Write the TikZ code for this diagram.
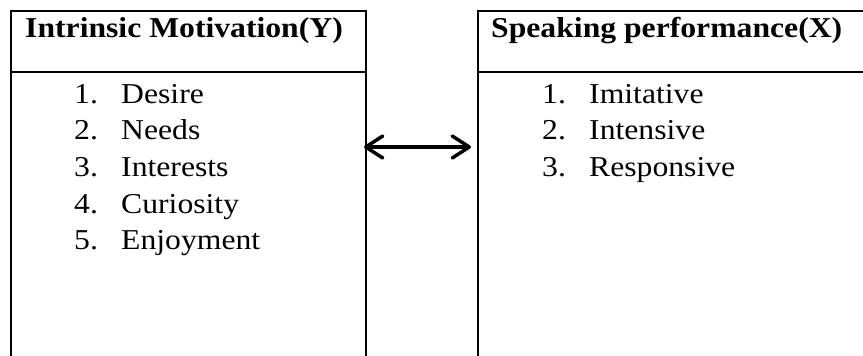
\documentclass[tikz,border=0pt]{standalone}
\usepackage{fontspec}
\setmainfont{Liberation Serif}[FakeStretch=1.1]
\usetikzlibrary{arrows.meta}

\begin{document}
\begin{tikzpicture}[x=1pt,y=-1pt,
  frame/.style={line width=1.8pt},
  heading/.style={anchor=base west,inner sep=0pt,font=\fontsize{28.8}{34}\selectfont\bfseries},
  itemnum/.style={anchor=base west,inner sep=0pt,font=\fontsize{28.8}{34}\selectfont},
  itemtxt/.style={anchor=base west,inner sep=0pt,font=\fontsize{28.8}{34}\selectfont},
  link/.style={line width=3.5pt,line cap=round,
    {Straight Barb[length=17pt,width=22pt,round]}-{Straight Barb[length=17pt,width=22pt,round]}}]

\useasboundingbox (0,0) rectangle (863,356);

% left box: open at the bottom
\draw[frame] (11,356) -- (11,11) -- (366,11) -- (366,356);
\draw[frame] (11,72) -- (366,72);

% right box: runs past the right edge
\draw[frame] (478,356) -- (478,11) -- (863,11);
\draw[frame] (478,72) -- (863,72);

% headings
\node[heading] (hy) at (25,37) {Intrinsic Motivation(Y)};
\node[heading] (hx) at (491,37) {Speaking performance(X)};

% indicators of intrinsic motivation
\foreach \n/\t [count=\i] in {1/Desire,2/Needs,3/Interests,4/Curiosity,5/Enjoyment}{
  \node[itemnum] (yn\i) at (74,{103+36.7*(\i-1)}) {\n.};
  \node[itemtxt] (yt\i) at (121,{103+36.7*(\i-1)}) {\t};
}

% indicators of speaking performance
\foreach \n/\t [count=\i] in {1/Imitative,2/Intensive,3/Responsive}{
  \node[itemnum] (xn\i) at (542,{103+36.7*(\i-1)}) {\n.};
  \node[itemtxt] (xt\i) at (589,{103+36.7*(\i-1)}) {\t};
}

% relation between the two variables
\coordinate (ya) at (364,147);
\coordinate (xa) at (471,147);
\draw[link] (ya) -- (xa);

\end{tikzpicture}
\end{document}
